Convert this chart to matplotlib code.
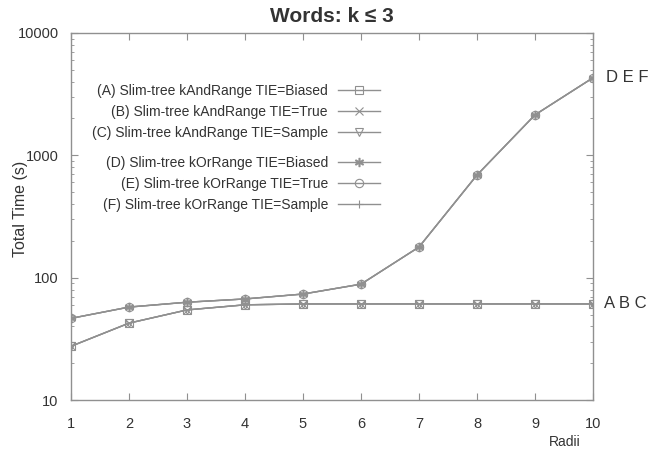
import matplotlib
matplotlib.use("Agg")
import matplotlib.pyplot as plt
from matplotlib.ticker import LogLocator, NullFormatter, FuncFormatter

plt.rcParams['font.family'] = ['Liberation Sans', 'DejaVu Sans']

radii = [1, 2, 3, 4, 5, 6, 7, 8, 9, 10]
and_range = [27.5, 42.5, 54.5, 60, 61, 61, 61, 61, 61, 61]
or_range = [46.5, 57.5, 63, 67, 73.5, 88.5, 178, 690, 2140, 4300]

and_labels = ["(A) Slim-tree kAndRange TIE=Biased",
              "(B) Slim-tree kAndRange TIE=True",
              "(C) Slim-tree kAndRange TIE=Sample"]
or_labels = ["(D) Slim-tree kOrRange TIE=Biased",
             "(E) Slim-tree kOrRange TIE=True",
             "(F) Slim-tree kOrRange TIE=Sample"]
and_markers = ['s', 'x', 'v']
or_markers = ['$*$', 'o', '+']

gray = '#909090'
txt = '#333333'

fig = plt.figure(figsize=(6.6, 4.51), dpi=100)
ax = fig.add_axes([0.1076, 0.113, 0.7909, 0.814])

h_and = []
for lab, m in zip(and_labels, and_markers):
    l, = ax.plot(radii, and_range, color=gray, lw=1, marker=m, ms=6,
                 mfc='none', mec=gray, mew=0.8, label=lab)
    h_and.append(l)
h_or = []
for lab, m in zip(or_labels, or_markers):
    l, = ax.plot(radii, or_range, color=gray, lw=1, marker=m, ms=6,
                 mfc='none', mec=gray, mew=0.8, label=lab)
    h_or.append(l)

ax.set_yscale('log')
ax.set_xlim(1, 10)
ax.set_ylim(10, 10000)
ax.set_xticks(radii)
ax.yaxis.set_major_locator(LogLocator(base=10, numticks=10))
ax.yaxis.set_minor_locator(LogLocator(base=10, subs=range(2, 10), numticks=10))
ax.yaxis.set_minor_formatter(NullFormatter())
ax.yaxis.set_major_formatter(FuncFormatter(lambda v, p: "%d" % v))

for s in ax.spines.values():
    s.set_color(gray)
    s.set_linewidth(1)
ax.tick_params(which='both', direction='in', top=True, right=True,
               color=gray, labelcolor=txt, labelsize=10.5)
ax.tick_params(which='major', length=5, pad=9)
ax.tick_params(which='minor', length=2.5)
ax.tick_params(axis='x', pad=12)

ax.set_title("Words: k ≤ 3", fontsize=15, fontweight='bold', color=txt, pad=8)
ax.set_ylabel("Total Time (s)", fontsize=11.5, color=txt)
ax.yaxis.set_label_coords(-0.082, 0.52)
ax.text(0.945, -0.115, "Radii", transform=ax.transAxes, fontsize=10,
        color=txt, ha='center', va='center')

ax.annotate("A B C", (radii[-1], and_range[-1]), xytext=(8, 0),
            textcoords='offset points', va='center', ha='left',
            fontsize=12, color=txt, annotation_clip=False)
ax.annotate("D E F", (radii[-1], or_range[-1]), xytext=(9, 0),
            textcoords='offset points', va='center', ha='left',
            fontsize=12, color=txt, annotation_clip=False)

leg_kw = dict(frameon=False, markerfirst=False, numpoints=1, fontsize=10,
              handlelength=3.0, handletextpad=0.75, labelspacing=0.52,
              borderpad=0, borderaxespad=0, loc='upper right', labelcolor=txt)
leg1 = ax.legend(handles=h_and, bbox_to_anchor=(0.592, 0.862), **leg_kw)
ax.add_artist(leg1)
ax.legend(handles=h_or, bbox_to_anchor=(0.592, 0.666), **leg_kw)

fig.savefig("out.png", dpi=100)
